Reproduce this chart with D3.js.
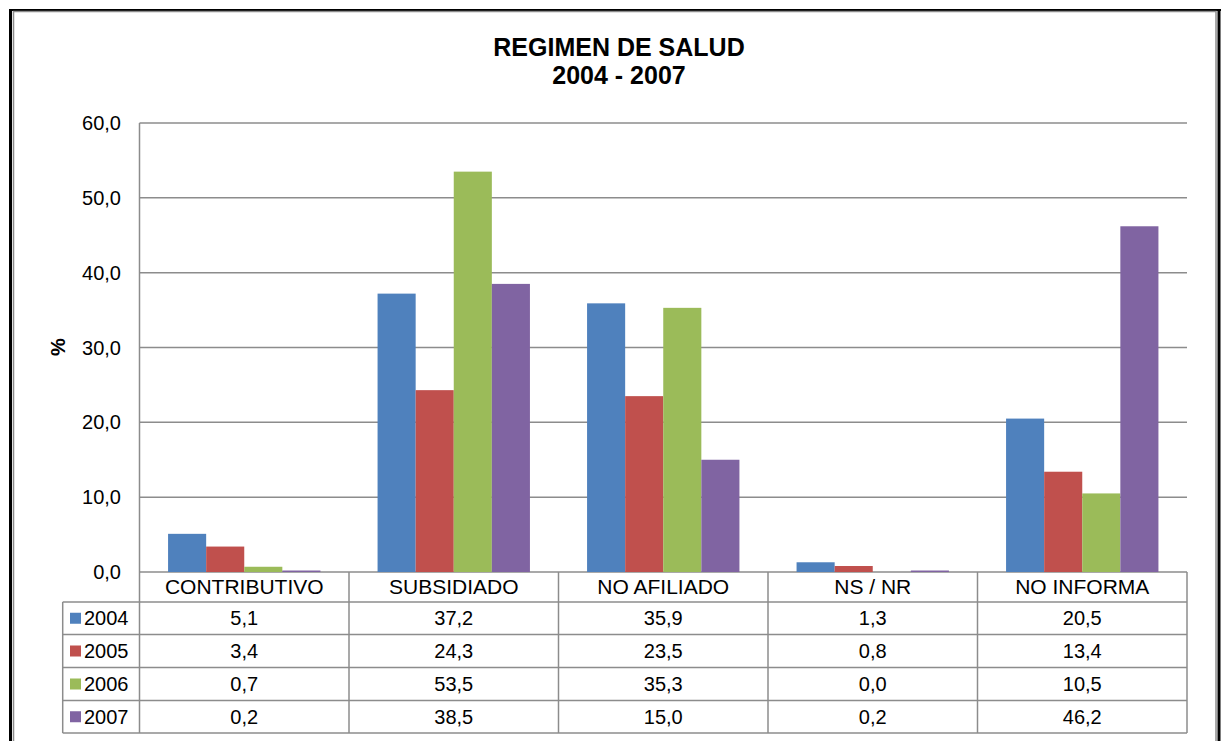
<!DOCTYPE html>
<html>
<head>
<meta charset="utf-8">
<script src="https://cdn.jsdelivr.net/npm/d3@7"></script>
<style>
  body { margin: 0; background: #fff; }
  svg { display: block; font-family: "Liberation Sans", Arial, sans-serif; }
</style>
</head>
<body>
<svg id="chart"></svg>
<script>
var categories = ['CONTRIBUTIVO', 'SUBSIDIADO', 'NO AFILIADO', 'NS / NR', 'NO INFORMA'];
var years = ['2004', '2005', '2006', '2007'];
var v2004 = [5.1, 37.2, 35.9, 1.3, 20.5];
var v2005 = [3.4, 24.3, 23.5, 0.8, 13.4];
var v2006 = [0.7, 53.5, 35.3, 0.0, 10.5];
var v2007 = [0.2, 38.5, 15.0, 0.2, 46.2];
var yTicks = [0, 10, 20, 30, 40, 50, 60];
var colors = ['#4F81BD', '#C0504D', '#9BBB59', '#8064A2'];

var series = [v2004, v2005, v2006, v2007];
var fmt = function(v) { return v.toFixed(1).replace('.', ','); };

var W = 1223, H = 741;
var svg = d3.select('#chart').attr('width', W).attr('height', H);

// frame
svg.append('line').attr('x1', 9).attr('x2', 1221).attr('y1', 10).attr('y2', 10)
  .attr('stroke', '#000').attr('stroke-width', 2);
svg.append('line').attr('x1', 10.5).attr('x2', 10.5).attr('y1', 9).attr('y2', H)
  .attr('stroke', '#000').attr('stroke-width', 3);
svg.append('line').attr('x1', 1219).attr('x2', 1219).attr('y1', 9).attr('y2', H)
  .attr('stroke', '#000').attr('stroke-width', 3);
svg.append('rect').attr('x', 13.5).attr('y', 11.5).attr('width', 1202.5).attr('height', H)
  .attr('fill', 'none').attr('stroke', '#8c8c8c').attr('stroke-width', 1.5);

// title
var title = svg.append('text').attr('text-anchor', 'middle')
  .attr('font-weight', 'bold').attr('font-size', 25);
title.append('tspan').attr('x', 619).attr('y', 56).text('REGIMEN DE SALUD');
title.append('tspan').attr('x', 619).attr('y', 84).text('2004 - 2007');

var plotL = 139.5, plotR = 1187, plotT = 123, plotB = 572;
var x = d3.scaleBand().domain(categories).range([plotL, plotR]).padding(0);
var xs = d3.scaleBand().domain(years).range([0, x.bandwidth()])
  .paddingInner(0).paddingOuter(0.75);
var y = d3.scaleLinear().domain([0, 60]).range([plotB, plotT]);

var grid = '#8c8c8c';

// gridlines
svg.append('g').selectAll('line').data(yTicks).enter().append('line')
  .attr('x1', plotL).attr('x2', plotR)
  .attr('y1', function(d) { return y(d); }).attr('y2', function(d) { return y(d); })
  .attr('stroke', grid).attr('stroke-width', 1.5);

// y tick labels
svg.append('g').selectAll('text').data(yTicks).enter().append('text')
  .attr('x', 121).attr('y', function(d) { return y(d); })
  .attr('dy', '0.35em').attr('text-anchor', 'end').attr('font-size', 20)
  .text(fmt);

// y label
svg.append('text').attr('transform', 'translate(65,347) rotate(-90)')
  .attr('text-anchor', 'middle').attr('font-weight', 'bold').attr('font-size', 20)
  .text('%');

// bars
var groups = svg.append('g').selectAll('g').data(series).enter().append('g')
  .attr('fill', function(d, i) { return colors[i]; });
groups.selectAll('rect').data(function(d, i) {
  return d.map(function(v, j) { return {v: v, cat: categories[j], yr: years[i]}; });
}).enter().append('rect')
  .attr('x', function(d) { return x(d.cat) + xs(d.yr); })
  .attr('width', xs.bandwidth())
  .attr('y', function(d) { return y(d.v); })
  .attr('height', function(d) { return plotB - y(d.v); });

// data table
var rowTop = [602, 634.5, 667.5, 700.5, 733];
var legLeft = 62.7;
var tbl = svg.append('g');

tbl.selectAll('line.h').data(rowTop).enter().append('line')
  .attr('x1', legLeft).attr('x2', plotR)
  .attr('y1', function(d) { return d; }).attr('y2', function(d) { return d; })
  .attr('stroke', grid).attr('stroke-width', 1.5);
tbl.append('line').attr('x1', legLeft).attr('x2', legLeft)
  .attr('y1', rowTop[0]).attr('y2', rowTop[4]).attr('stroke', grid).attr('stroke-width', 1.5);
tbl.append('line').attr('x1', plotL).attr('x2', plotL)
  .attr('y1', plotT).attr('y2', rowTop[4]).attr('stroke', grid).attr('stroke-width', 1.5);
tbl.selectAll('line.v').data(categories).enter().append('line')
  .attr('x1', function(d) { return x(d) + x.bandwidth(); })
  .attr('x2', function(d) { return x(d) + x.bandwidth(); })
  .attr('y1', plotB).attr('y2', rowTop[4]).attr('stroke', grid).attr('stroke-width', 1.5);

// category header
tbl.selectAll('text.cat').data(categories).enter().append('text')
  .attr('x', function(d) { return x(d) + x.bandwidth() / 2; })
  .attr('y', 594).attr('text-anchor', 'middle').attr('font-size', 21)
  .text(function(d) { return d; });

// rows
years.forEach(function(yr, i) {
  var cy = (rowTop[i] + rowTop[i + 1]) / 2;
  tbl.append('rect').attr('x', 70).attr('y', cy - 5.5).attr('width', 11).attr('height', 11)
    .attr('fill', colors[i]);
  tbl.append('text').attr('x', 84).attr('y', cy + 7).attr('font-size', 20).text(yr);
  tbl.selectAll('text.r' + i).data(series[i]).enter().append('text')
    .attr('x', function(d, j) { return x(categories[j]) + x.bandwidth() / 2; })
    .attr('y', cy + 7).attr('text-anchor', 'middle').attr('font-size', 20)
    .text(fmt);
});
</script>
</body>
</html>
